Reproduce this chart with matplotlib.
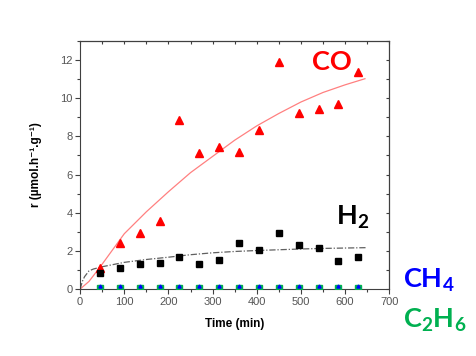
import numpy as np
import matplotlib
matplotlib.use('Agg')
import matplotlib.pyplot as plt
from matplotlib.ticker import MultipleLocator

plt.rcParams['mathtext.fontset'] = 'custom'
plt.rcParams['mathtext.rm'] = 'Lato:bold'
plt.rcParams['mathtext.it'] = 'Lato:bold'
plt.rcParams['mathtext.bf'] = 'Lato:bold'

# ── data ──────────────────────────────────────────────
t = [45, 90, 135, 180, 225, 270, 315, 360, 405, 450, 495, 540, 585, 630]
co = [1.12, 2.43, 2.92, 3.58, 8.85, 7.13, 7.46, 7.2, 8.33, 11.9, 9.24, 9.43, 9.71, 11.37]
h2 = [0.82, 1.08, 1.31, 1.38, 1.69, 1.29, 1.52, 2.39, 2.04, 2.92, 2.31, 2.13, 1.48, 1.69]
ch4 = [0.15] * 14
c2h6 = [0.03] * 14

# fitted curves
fit_t = [0, 20, 45, 100, 150, 200, 250, 300, 350, 400, 450, 500, 550, 600, 645]
co_fit = [0.0, 0.4, 1.15, 2.9, 4.05, 5.1, 6.1, 6.95, 7.8, 8.55, 9.2, 9.8, 10.3, 10.7, 11.02]
h2_fit_t = [0, 5, 10, 20, 30, 50, 100, 150, 200, 250, 300, 350, 400, 450, 500, 550, 600, 648]
h2_fit = [0.0, 0.4, 0.65, 0.95, 1.05, 1.17, 1.4, 1.55, 1.67, 1.8, 1.9, 1.97, 2.02, 2.06, 2.1, 2.13, 2.15, 2.17]

fig = plt.figure(figsize=(4.77, 3.56), dpi=100)
ax = fig.add_axes([0.168, 0.188, 0.648, 0.697])

ax.plot(fit_t, co_fit, color='#ff8080', lw=0.9, zorder=2)
ax.plot(h2_fit_t, h2_fit, color='#606060', lw=0.9, ls=(0, (5, 1.5, 1, 1.5)), zorder=2)
ax.plot(t, co, ls='none', marker='^', ms=5.5, color='#ff0000', zorder=4)
ax.plot(t, h2, ls='none', marker='s', ms=4.8, color='#000000', zorder=4)
ax.plot(t, c2h6, ls='none', marker='s', ms=5, color='#00b050', zorder=4)
ax.plot(t, ch4, ls='none', marker='^', ms=2.2, color='#0000ff', zorder=5)

ax.set_xlim(0, 700)
ax.set_ylim(0, 13)
ax.xaxis.set_major_locator(MultipleLocator(100))
ax.xaxis.set_minor_locator(MultipleLocator(50))
ax.yaxis.set_major_locator(MultipleLocator(2))
ax.yaxis.set_minor_locator(MultipleLocator(1))

for s in ax.spines.values():
    s.set_color('#404040')
    s.set_linewidth(0.8)
ax.tick_params(which='both', direction='out', color='#404040', width=0.8,
               labelsize=8, labelcolor='#555555', pad=2)
ax.tick_params(which='major', length=3.5)
ax.tick_params(which='minor', length=2)
for lab in ax.get_xticklabels() + ax.get_yticklabels():
    lab.set_family('Liberation Sans')

# mirrored ticks on top and right, pointing inward
axt = ax.secondary_xaxis('top')
axt.xaxis.set_major_locator(MultipleLocator(50))
axt.tick_params(direction='in', length=2.5, color='#404040', width=0.8, labeltop=False)
axr = ax.secondary_yaxis('right')
axr.yaxis.set_major_locator(MultipleLocator(1))
axr.tick_params(direction='in', length=2.5, color='#404040', width=0.8, labelright=False)

ax.set_xlabel('Time (min)', fontsize=8.5, fontweight='bold',
              family=['Liberation Sans', 'DejaVu Sans'], labelpad=8)
ax.set_ylabel('r (µmol.h⁻¹.g⁻¹)', fontsize=8.5, fontweight='bold',
              family=['Liberation Sans', 'DejaVu Sans'], labelpad=13)

# species labels
kw = dict(fontsize=19.5, fontweight='bold', family='Lato', transform=fig.transFigure,
          ha='left', va='baseline')
fig.text(312 / 477, 1 - 70 / 356, 'CO', color='#ff0000', **kw)
fig.text(336 / 477, 1 - 225 / 356, 'H$_2$', color='#000000', **kw)
fig.text(403 / 477, 1 - 288 / 356, 'CH$_4$', color='#0000ff', **kw)
fig.text(403 / 477, 1 - 328 / 356, 'C$_2$H$_6$', color='#00b050', **kw)

fig.savefig('out.png', dpi=100, facecolor='white')
